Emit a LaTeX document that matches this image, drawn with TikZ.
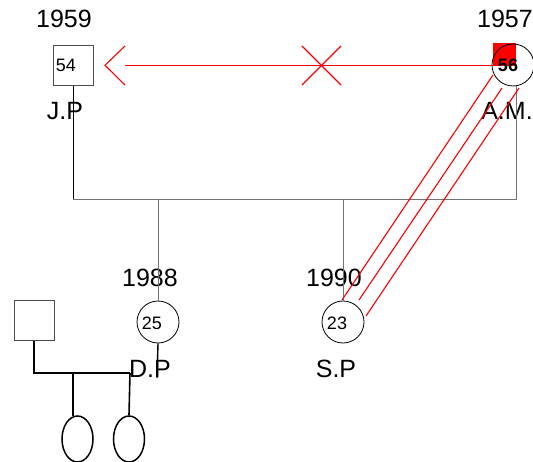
\documentclass[tikz,border=0pt]{standalone}
\usepackage{fontspec}
\setmainfont{Liberation Sans}
\usetikzlibrary{shapes.geometric}
\begin{document}
\begin{tikzpicture}[x=1pt,y=-1pt,
 lbl/.style={font=\fontsize{25}{30}\selectfont, inner sep=0pt},
 num/.style={font=\fontsize{18}{22}\selectfont, inner sep=0pt},
 male/.style={draw=black!70, minimum size=40pt, inner sep=0pt, line width=1pt},
 female/.style={circle, draw=black, minimum size=42pt, inner sep=0pt, line width=0.8pt},
 kid/.style={ellipse, draw=black, minimum width=31pt, minimum height=46pt, inner sep=0pt, line width=1.5pt},
 kin/.style={draw=black!55, line width=1pt},
 rel/.style={draw=red, line width=1.1pt},
 fam/.style={draw=black, line width=1.6pt}]
\useasboundingbox (0,0) rectangle (533,462);
% persons
\node[male] (JP) at (73,65.5) {};
\node[num] (JPn) at (66,65) {54};
\fill[red] (493,43) rectangle (516,66);
\node[female] (AM) at (513,65) {};
\node[num, font=\fontsize{18}{22}\selectfont\bfseries] (AMn) at (508,65) {56};
\node[female] (DP) at (158,322) {};
\node[num] (DPn) at (152,323) {25};
\node[female] (SP) at (343,322) {};
\node[num] (SPn) at (337,323) {23};
\node[male] (X) at (34,321) {};
\node[kid] (E1) at (77.5,439) {};
\node[kid] (E2) at (129,439) {};
% labels
\node[lbl] (l1959) at (64,19) {1959};
\node[lbl] (lJP) at (65,111) {J.P};
\node[lbl] (l1957) at (505,19) {1957};
\node[lbl] (lAM) at (507,111) {A.M.};
\node[lbl] (l1988) at (150,278) {1988};
\node[lbl] (lDP) at (150,369) {D.P};
\node[lbl] (l1990) at (334,278) {1990};
\node[lbl] (lSP) at (336,369) {S.P};
% kinship lines
\coordinate (hl) at (73,200);
\coordinate (hr) at (516,200);
\draw[black, line width=1pt] (JP.south) -- (hl);
\draw[kin] (hl) -- (hr) -- (hr |- AM.south);
\draw[kin] (DP.north |- hl) -- (DP.north);
\draw[kin] (SP.north |- hl) -- (SP.north);
\coordinate (dpe) at (157,378);
\draw[black, line width=1.4pt] (DP.south) -- (dpe);
% left family
\coordinate (fc) at (34,373);
\coordinate (fr) at (130,373);
\coordinate (f1) at (73,373);
\coordinate (f1e) at (73,416);
\draw[fam] (X.south) -- (fc) -- (fr);
\draw[fam] (f1) -- (f1e);
\draw[fam] (fr) -- (E2.north);
% relationship lines
\coordinate (linestart) at (125,65.3);
\coordinate (lineend) at (493,65.3);
\coordinate (ct) at (105,65.3);
\coordinate (ca) at (125,46);
\coordinate (cb) at (125,85);
\draw[rel, line width=1.3pt] (lineend) -- (linestart);
\draw[rel] (ca) -- (ct) -- (cb);
\coordinate (xa) at (302,46);
\coordinate (xb) at (341,85);
\coordinate (xc) at (302,85);
\coordinate (xd) at (341,46);
\draw[rel] (xa) -- (xb);
\draw[rel] (xc) -- (xd);
\coordinate (d1a) at (493,75);
\coordinate (d1b) at (342,300);
\coordinate (d2a) at (502,88);
\coordinate (d2b) at (359,300);
\coordinate (d3a) at (519,88);
\coordinate (d3b) at (366,316);
\draw[rel] (d1a) -- (d1b);
\draw[rel] (d2a) -- (d2b);
\draw[rel] (d3a) -- (d3b);
\end{tikzpicture}
\end{document}
